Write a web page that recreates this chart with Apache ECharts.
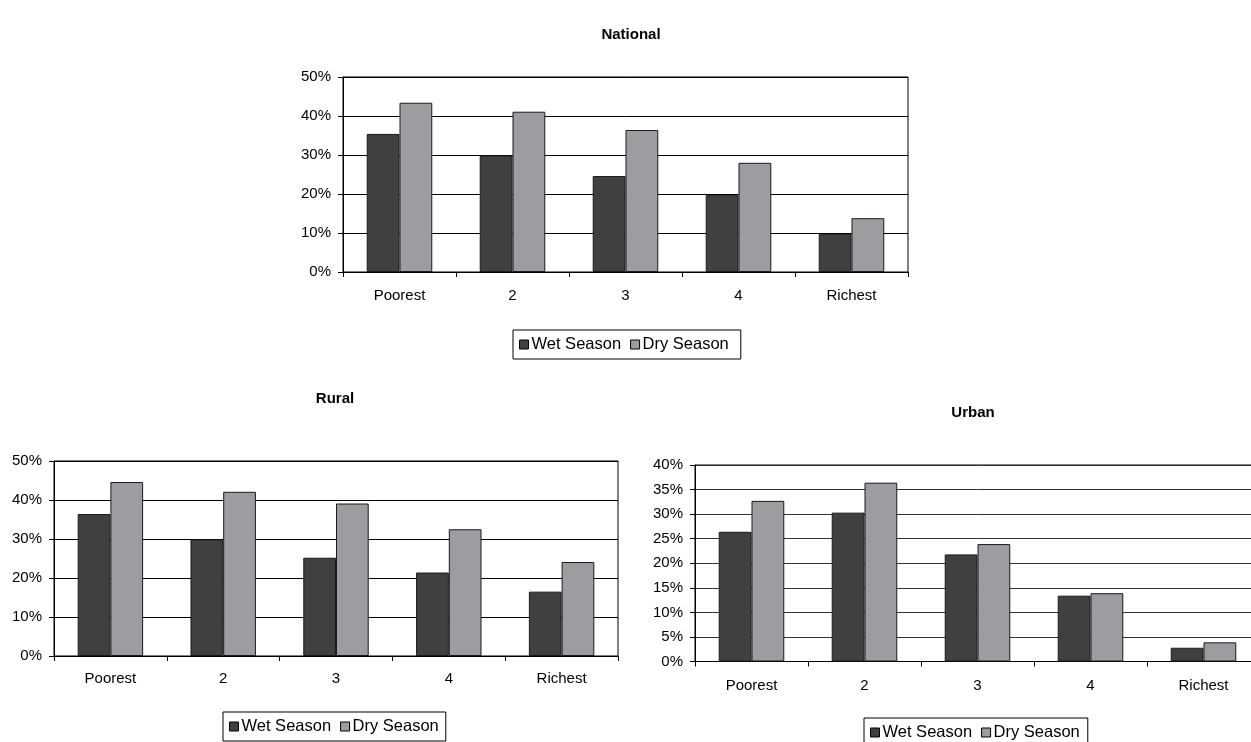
<!DOCTYPE html>
<html>
<head>
<meta charset="utf-8">
<script src="https://cdn.jsdelivr.net/npm/echarts@6/dist/echarts.min.js"></script>
<style>html,body{margin:0;padding:0;background:#fff;overflow:hidden;width:1251px;height:742px;}#c{width:1262px;height:742px;}</style>
</head>
<body>
<div id="c"></div>
<script>
const categories = ['Poorest', '2', '3', '4', 'Richest'];
const seriesNames = ['Wet Season', 'Dry Season'];
const nationalWet = [35.4, 29.9, 24.6, 19.7, 9.8];
const nationalDry = [43.4, 41.1, 36.4, 28.0, 13.8];
const ruralWet = [36.4, 29.9, 25.2, 21.4, 16.5];
const ruralDry = [44.6, 42.1, 39.1, 32.5, 24.1];
const urbanWet = [26.4, 30.3, 21.8, 13.4, 2.8];
const urbanDry = [32.7, 36.4, 23.9, 13.9, 3.9];
const titles = ['National', 'Rural', 'Urban'];
const yMax = [50, 50, 40];
const yInterval = [10, 10, 5];

const FONT = "'Liberation Sans', Arial, sans-serif";
const colors = ['#404042', '#9c9da1'];
const panels = [[nationalWet, nationalDry], [ruralWet, ruralDry], [urbanWet, urbanDry]];

const grids = [
  {left: 343, top: 77, width: 565, height: 195},
  {left: 54, top: 461, width: 564, height: 195},
  {left: 695, top: 465, width: 565, height: 196.5}
];
const labelMargins = [16, 15, 17];
const titlePos = [
  {left: 626, top: 22},
  {left: 330, top: 386},
  {left: 968, top: 400}
];
const legendPos = [
  {left: 513, top: 330, rightPad: 12},
  {left: 223, top: 712, rightPad: 7},
  {left: 864, top: 718, rightPad: 8}
];

const option = {
  backgroundColor: '#fff',
  animation: false,
  title: titles.map((t, i) => ({
    text: t, left: titlePos[i].left, top: titlePos[i].top, textAlign: 'center',
    textStyle: {fontFamily: FONT, fontSize: 15, fontWeight: 'bold', color: '#000'}
  })),
  legend: legendPos.map(p => ({
    data: seriesNames, left: p.left, top: p.top, orient: 'horizontal',
    icon: 'rect', itemWidth: 9, itemHeight: 9, itemGap: 9,
    borderColor: '#000', borderWidth: 1, padding: [6, p.rightPad, 6, 6],
    itemStyle: {borderColor: '#000', borderWidth: 1},
    textStyle: {fontFamily: FONT, fontSize: 16.5, color: '#000', padding: [0, 0, 0, -2]},
    selectedMode: false
  })),
  grid: grids.map(g => Object.assign({show: true, borderColor: '#000', borderWidth: 1, containLabel: false}, g)),
  xAxis: grids.map((g, i) => ({
    type: 'category', gridIndex: i, data: categories,
    axisLine: {lineStyle: {color: '#000', width: 1}},
    axisTick: {show: true, length: 5, lineStyle: {color: '#000'}},
    axisLabel: {fontFamily: FONT, fontSize: 15, color: '#000', margin: labelMargins[i]},
    splitLine: {show: false}
  })),
  yAxis: grids.map((g, i) => ({
    type: 'value', gridIndex: i, min: 0, max: yMax[i], interval: yInterval[i],
    axisLine: {show: true, lineStyle: {color: '#000', width: 1}},
    axisTick: {show: true, length: 5, lineStyle: {color: '#000'}},
    axisLabel: {fontFamily: FONT, fontSize: 15, color: '#000', margin: 12, formatter: '{value}%'},
    splitLine: {show: true, lineStyle: {color: i === 2 ? '#333' : '#000', width: 1}}
  })),
  series: []
};

panels.forEach((pair, i) => {
  pair.forEach((vals, k) => {
    option.series.push({
      type: 'bar', name: seriesNames[k], xAxisIndex: i, yAxisIndex: i,
      data: vals, barGap: '0%', barCategoryGap: '42%',
      itemStyle: {color: colors[k], borderColor: '#1a1a1a', borderWidth: 1},
      emphasis: {disabled: true}
    });
  });
});

const chart = echarts.init(document.getElementById('c'), null, {renderer: 'canvas'});
chart.setOption(option);
</script>
</body>
</html>
